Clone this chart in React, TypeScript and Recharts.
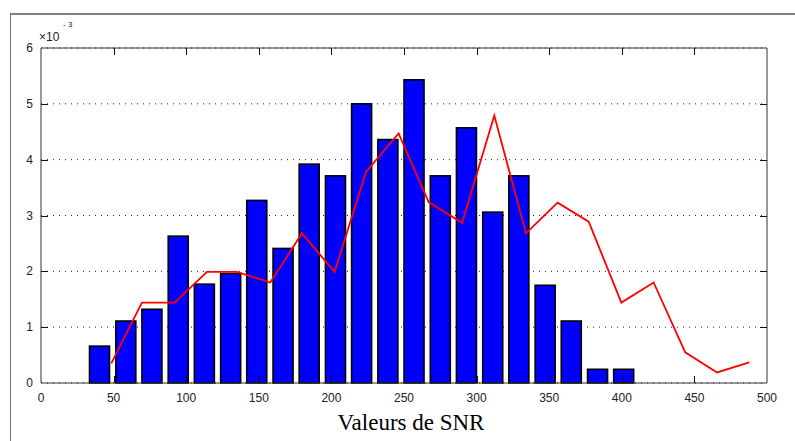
import { ComposedChart, Bar, Line, XAxis, YAxis, CartesianGrid, ReferenceLine, Label } from 'recharts';

// histogram bins (centre of each bin, SNR) and their heights (x 10^-3)
const binCenters = [40.3, 58.4, 76.4, 94.5, 112.5, 130.6, 148.6, 166.7, 184.7, 202.8, 220.8,
  238.9, 256.9, 275.0, 293.0, 311.1, 329.1, 347.2, 365.2, 383.3, 401.3];
const binHeights = [0.66, 1.11, 1.32, 2.63, 1.77, 1.96, 3.27, 2.41, 3.92, 3.71, 5.0,
  4.36, 5.43, 3.71, 4.57, 3.06, 3.71, 1.75, 1.11, 0.245, 0.245];

// red curve
const curveX = [48.4, 69.5, 92.0, 114.3, 135.0, 157.9, 179.7, 202.2, 223.8, 246.3, 267.0,
  290.0, 312.2, 334.0, 355.8, 377.2, 399.7, 421.9, 443.7, 465.6, 487.8];
const curveY = [0.35, 1.44, 1.44, 1.99, 1.99, 1.80, 2.68, 1.99, 3.78, 4.47, 3.24,
  2.87, 4.79, 2.68, 3.23, 2.89, 1.44, 1.80, 0.55, 0.19, 0.37];

const xTicks = [0, 50, 100, 150, 200, 250, 300, 350, 400, 450, 500];
const yTicks = [0, 1, 2, 3, 4, 5, 6];

const X_MIN = 0, X_MAX = 500, Y_MIN = 0, Y_MAX = 6;

const barData = binCenters.map((x, i) => ({ x, h: binHeights[i] }));
const lineData = curveX.map((x, i) => ({ x, y: curveY[i] }));

const W = 795;
const H = 441;
const PLOT = { left: 41, right: 767, top: 48, bottom: 383 };
const AXIS = '#333';
const FONT = '"Liberation Sans", Arial, sans-serif';
const BAR_W = 20;
const TICK_LEN = 7;

// label outside the box, tick marks pointing inwards on both sides (matlab look)
const XTick = ({ x, payload }: any) => {
  const v = payload.value;
  const px = Math.round(x) + 0.5;
  return (
    <g>
      {v > X_MIN && v < X_MAX && (
        <g stroke="#111" strokeWidth={1}>
          <line x1={px} x2={px} y1={PLOT.bottom} y2={PLOT.bottom - TICK_LEN} />
          <line x1={px} x2={px} y1={PLOT.top} y2={PLOT.top + TICK_LEN} />
        </g>
      )}
      <text x={x} y={PLOT.bottom + 19} textAnchor="middle" fontSize={12} fontFamily={FONT} fill="#222">{v}</text>
    </g>
  );
};

const YTick = ({ y, payload }: any) => {
  const v = payload.value;
  const py = Math.round(y) + 0.5;
  return (
    <g>
      {v > Y_MIN && v < Y_MAX && (
        <g stroke="#111" strokeWidth={1}>
          <line x1={PLOT.left} x2={PLOT.left + TICK_LEN} y1={py} y2={py} />
          <line x1={PLOT.right} x2={PLOT.right - TICK_LEN} y1={py} y2={py} />
        </g>
      )}
      <text x={PLOT.left - 8} y={y + 4} textAnchor="end" fontSize={12} fontFamily={FONT} fill="#222">{v}</text>
    </g>
  );
};

// fixed-width bar centred on the bin value
const BinBar = (p: any) => {
  if (!p.height) return null;
  return (
    <rect x={p.x + p.width / 2 - BAR_W / 2} y={p.y} width={BAR_W} height={p.height}
      fill="#0000ff" stroke="#000" strokeWidth={1.6} />
  );
};

export default function App() {
  return (
    <div style={{ position: 'absolute', left: 0, top: 0, width: W, height: H, background: '#fff' }}>
      {/* figure frame */}
      <div style={{ position: 'absolute', left: 10, top: 13, right: 0, bottom: 0, borderLeft: '1px solid #707070', borderTop: '2px solid #808080' }} />
      <div style={{ position: 'absolute', left: 0, top: 0 }}>
        <ComposedChart width={W} height={H} data={barData} margin={{ top: PLOT.top, right: W - PLOT.right, bottom: 0, left: 0 }}>
          <CartesianGrid vertical={false} stroke="#222" strokeDasharray="1 5" />
          <Bar dataKey="h" fill="#0000ff" shape={BinBar} isAnimationActive={false} />
          <Line data={lineData} dataKey="y" type="linear" stroke="#ff0000" strokeWidth={1.8} dot={false}
            activeDot={false} isAnimationActive={false} />
          <ReferenceLine y={Y_MAX} stroke={AXIS} />
          <ReferenceLine x={X_MAX} stroke={AXIS} />
          <XAxis dataKey="x" type="number" domain={[X_MIN, X_MAX]} ticks={xTicks} height={H - PLOT.bottom}
            tickLine={false} axisLine={{ stroke: AXIS }} tick={(p: any) => <XTick {...p} />} interval={0}>
            <Label value="Valeurs de SNR" position="insideBottom" offset={11} dx={7}
              style={{ fontFamily: '"Liberation Serif", "Times New Roman", serif', fontSize: 23, fill: '#000' }} />
          </XAxis>
          <YAxis type="number" domain={[Y_MIN, Y_MAX]} ticks={yTicks} width={PLOT.left}
            tickLine={false} axisLine={{ stroke: AXIS }} tick={(p: any) => <YTick {...p} />} interval={0} />
        </ComposedChart>
      </div>
      <svg width={120} height={50} style={{ position: 'absolute', left: 0, top: 0 }}>
        <text x={39} y={41} fontSize={12} fontFamily={FONT} fill="#222">×10</text>
        <text x={63} y={27} fontSize={8} fontFamily={FONT} fill="#222">- 3</text>
      </svg>
    </div>
  );
}
